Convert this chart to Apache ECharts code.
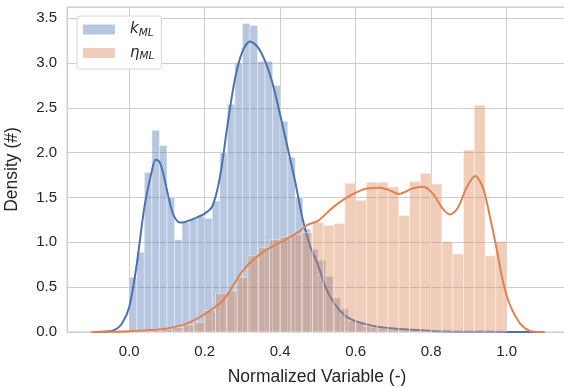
<!DOCTYPE html>
<html><head><meta charset="utf-8">
<script src="https://cdn.jsdelivr.net/npm/echarts@6/dist/echarts.min.js"></script>
<style>html,body{margin:0;padding:0;background:#fff}#c{width:564px;height:387px}</style>
</head><body><div id="c"></div>
<script>
// ---- data ----
const kBinStart = 0.0, kBinWidth = 0.02;
const kDensity = [0.61,0.89,1.78,2.25,2.08,1.50,1.03,1.22,1.26,1.29,
                  1.27,1.46,2.00,2.54,3.00,3.44,3.42,3.02,3.02,2.75,
                  2.35,1.95,1.50,1.15,0.92,0.80,0.62,0.38,0.26,0.12,
                  0.10,0.06,0.05,0.04,0.03,0.03,0.02,0.02,0.02,0.01,
                  0.01,0.01,0.01,0.01,0.005,0.005,0.0,0.0,0.0,0.0];
const etaBinStart = 0.0, etaBinWidth = 1/35;
const etaDensity = [0.01,0.01,0.02,0.03,0.05,0.08,0.11,0.24,0.43,0.46,
                    0.61,0.85,0.94,1.03,1.06,1.09,1.11,1.22,1.19,1.21,
                    1.66,1.47,1.67,1.67,1.62,1.30,1.68,1.77,1.65,1.01,
                    0.87,2.03,2.53,0.85,1.01];
const kKdeX = [-0.10,-0.06,-0.04,-0.02,0.00,0.02,0.04,0.06,0.07,0.08,0.09,0.10,0.11,0.12,0.135,0.15,0.175,0.20,0.22,0.24,0.26,0.28,0.30,0.32,0.34,0.36,0.38,0.40,0.42,0.44,0.46,0.48,0.50,0.52,0.54,0.56,0.58,0.60,0.65,0.70,0.75,0.80,0.85,0.90,1.00,1.10];
const kKdeY = [0.00,0.005,0.02,0.09,0.28,0.76,1.39,1.80,1.92,1.90,1.77,1.58,1.40,1.28,1.22,1.23,1.27,1.32,1.40,1.72,2.30,2.82,3.13,3.24,3.18,3.02,2.77,2.42,2.05,1.67,1.25,0.95,0.75,0.50,0.34,0.23,0.16,0.12,0.065,0.04,0.025,0.012,0.006,0.003,0.001,0.0];
const etaKdeX = [-0.10,-0.05,0.00,0.05,0.10,0.15,0.20,0.25,0.30,0.35,0.40,0.45,0.47,0.50,0.54,0.585,0.63,0.665,0.69,0.715,0.75,0.78,0.805,0.83,0.85,0.87,0.895,0.917,0.938,0.956,0.973,0.99,1.008,1.035,1.06,1.09,1.10];
const etaKdeY = [0.0,0.003,0.008,0.02,0.04,0.09,0.20,0.36,0.68,0.88,1.00,1.12,1.19,1.24,1.39,1.52,1.60,1.61,1.58,1.54,1.60,1.62,1.54,1.38,1.31,1.38,1.62,1.74,1.60,1.28,0.94,0.57,0.31,0.10,0.015,0.0,0.0];
const legendLabels = {k: '{i|k}{s|ML}', eta: '{i|η}{s|ML}'};
const xTitle = 'Normalized Variable (-)';
const yTitle = 'Density (#)';

// ---- styles ----
const BLUE = '#4C72B0', ORANGE = '#DD8452';
const BLUE_FILL = 'rgba(76,114,176,0.4)', ORANGE_FILL = 'rgba(221,132,82,0.4)';
const TXT = '#262626', GRIDC = '#cdcdcd';
const FONT = 'Liberation Sans';

function histSeries(name, start, width, vals, fill, z) {
  const data = vals.map((v, i) => [start + i * width, start + (i + 1) * width, v]);
  return {
    type: 'custom', name, z, data,
    encode: {x: [0, 1], y: 2},
    itemStyle: {color: fill},
    renderItem(params, api) {
      const p0 = api.coord([api.value(0), api.value(2)]);
      const p1 = api.coord([api.value(1), 0]);
      return {type: 'rect',
        shape: {x: p0[0], y: p0[1], width: p1[0] - p0[0], height: p1[1] - p0[1]},
        style: {fill: fill, stroke: 'rgba(255,255,255,0.5)', lineWidth: 0.8}};
    }
  };
}
function kdeSeries(name, xs, ys, color, z) {
  return {type: 'line', name, z, data: xs.map((x, i) => [x, ys[i]]),
    showSymbol: false, smooth: 0.3, lineStyle: {color, width: 2}, itemStyle: {color}};
}

const chart = echarts.init(document.getElementById('c'), null, {renderer: 'canvas'});
chart.setOption({
  animation: false,
  grid: {left: 67, top: 7, width: 500, height: 325, show: true, borderColor: GRIDC, borderWidth: 1,
         containLabel: false, outerBoundsMode: 'none'},
  xAxis: {
    type: 'value', min: -0.165, max: 1.16, splitNumber: 7,
    name: xTitle, nameLocation: 'middle', nameGap: 36,
    nameTextStyle: {fontFamily: FONT, fontSize: 17.5, color: TXT},
    axisLine: {show: false}, axisTick: {show: false},
    axisLabel: {fontFamily: FONT, fontSize: 15, color: TXT, margin: 12, showMinLabel: false, showMaxLabel: false,
      formatter: v => Math.abs(v).toFixed(1)},
    splitLine: {show: true, lineStyle: {color: GRIDC, width: 1}}
  },
  yAxis: {
    type: 'value', min: 0, max: 3.625, interval: 0.5,
    name: yTitle, nameLocation: 'middle', nameGap: 46,
    nameTextStyle: {fontFamily: FONT, fontSize: 17.5, color: TXT},
    axisLine: {show: false}, axisTick: {show: false},
    axisLabel: {fontFamily: FONT, fontSize: 15, color: TXT, margin: 10, showMaxLabel: false,
      formatter: v => v.toFixed(1)},
    splitLine: {show: true, lineStyle: {color: GRIDC, width: 1}}
  },
  legend: {
    orient: 'vertical', left: 77, top: 16, data: ['k', 'eta'], icon: 'rect',
    itemWidth: 32, itemHeight: 10, itemGap: 7,
    padding: [6, 7, 7, 6], borderColor: '#d6d6d6', borderWidth: 1, borderRadius: 3, backgroundColor: '#fff',
    formatter: n => legendLabels[n],
    textStyle: {rich: {
      i: {fontFamily: 'DejaVu Sans', fontStyle: 'italic', fontSize: 15, color: TXT, padding: [0, 0, 0, 10]},
      s: {fontFamily: 'DejaVu Sans', fontStyle: 'italic', fontSize: 10.5, color: TXT, verticalAlign: 'bottom', padding: [7, 0, 0, 0]}
    }}
  },
  series: [
    histSeries('k', kBinStart, kBinWidth, kDensity, BLUE_FILL, 1),
    kdeSeries('kde_k', kKdeX, kKdeY, BLUE, 2),
    histSeries('eta', etaBinStart, etaBinWidth, etaDensity, ORANGE_FILL, 3),
    kdeSeries('kde_eta', etaKdeX, etaKdeY, ORANGE, 4)
  ]
});
</script></body></html>
